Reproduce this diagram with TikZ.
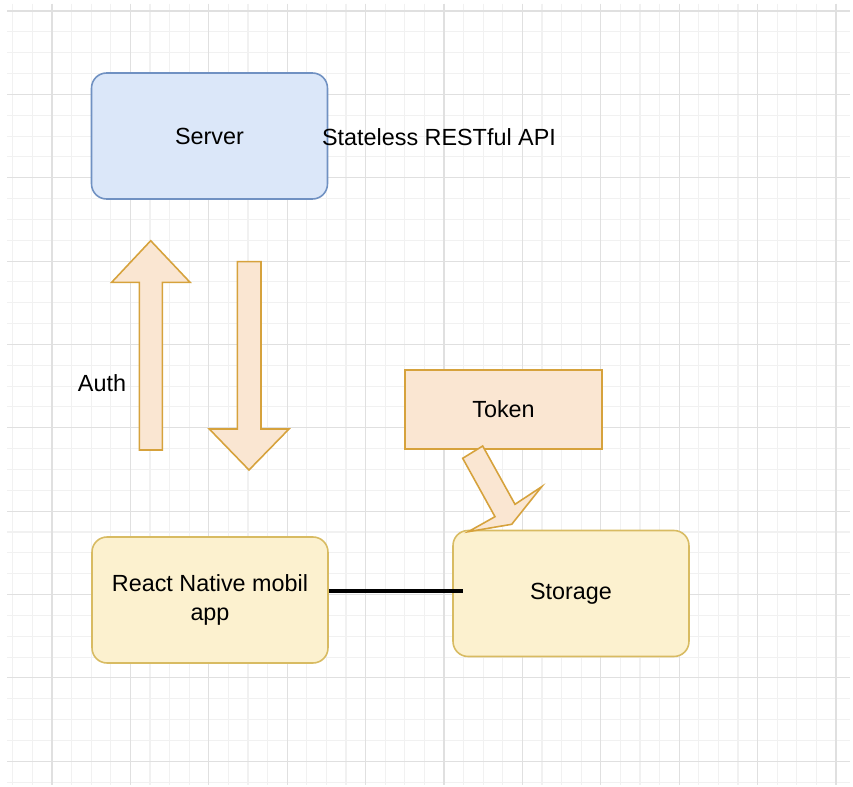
\documentclass[tikz,border=0pt]{standalone}
\usepackage{fontspec}
\setmainfont{Liberation Sans}
\definecolor{bluefill}{HTML}{DBE7F9}
\definecolor{blueline}{HTML}{7091C2}
\definecolor{yellowfill}{HTML}{FCF1CF}
\definecolor{yellowline}{HTML}{D8BB62}
\definecolor{orangefill}{HTML}{FAE6D2}
\definecolor{orangeline}{HTML}{D6A23C}
\definecolor{gridmajor}{HTML}{E0E0E0}
\definecolor{gridminor}{HTML}{F1F1F1}
\tikzset{
  box/.style={draw, line width=0.9pt, minimum width=4.72cm, minimum height=2.52cm,
    rounded corners=0.3cm, align=center, font=\fontsize{13.3}{16}\selectfont},
  txt/.style={font=\fontsize{13.3}{16}\selectfont},
  blockarrow/.style={draw=orangeline, fill=orangefill, line width=0.9pt, line join=miter},
  link/.style={line width=2.1pt},
}
\begin{document}
\begin{tikzpicture}[x=0.02cm, y=-0.02cm]
\useasboundingbox (0,0) rectangle (853,787);
\fill[white] (0,0) rectangle (853,787);

% grid
\foreach \x in {12.8,32.4,...,850} \draw[gridminor, line width=0.6pt] (\x,4) -- (\x,785);
\foreach \y in {11,31.84,...,785} \draw[gridminor, line width=0.6pt] (7,\y) -- (850,\y);
\foreach \x in {52,130.4,...,850} \draw[gridmajor, line width=0.6pt] (\x,4) -- (\x,785);
\foreach \y in {11,94.35,...,785} \draw[gridmajor, line width=0.6pt] (7,\y) -- (850,\y);

\node[box, fill=bluefill, draw=blueline] (server) at (209.5,136) {Server};
\node[txt] (api) at (439,137) {Stateless RESTful API};

\node[txt] (auth) at (102,383) {Auth};
\draw[blockarrow] (139.3,450) -- (139.3,282.3) -- (111.7,282.3) -- (150.7,240.7)
  -- (190,282.3) -- (162.3,282.3) -- (162.3,450) -- cycle;
\draw[blockarrow] (237.3,261.7) -- (261,261.7) -- (261,429) -- (289,429)
  -- (249,470) -- (209.3,429) -- (237.3,429) -- cycle;

\node[box, sharp corners, minimum width=3.94cm, minimum height=1.58cm,
  fill=orangefill, draw=orangeline] (token) at (503.5,409.5) {Token};

\node[box, fill=yellowfill, draw=yellowline] (app) at (210,600) {React Native mobil\\app};
\node[box, fill=yellowfill, draw=yellowline] (store) at (571,593.5) {\raisebox{-2pt}{Storage}};

\draw[blockarrow] (462.7,458.3) -- (482.7,446) -- (515,504.3) -- (541.7,486.7)
  -- (511.7,524.3) -- (468.3,531.7) -- (495,516.7) -- cycle;

\coordinate (lineend) at (463,591);
\draw[link] (app.east |- lineend) -- (lineend);

\end{tikzpicture}
\end{document}
